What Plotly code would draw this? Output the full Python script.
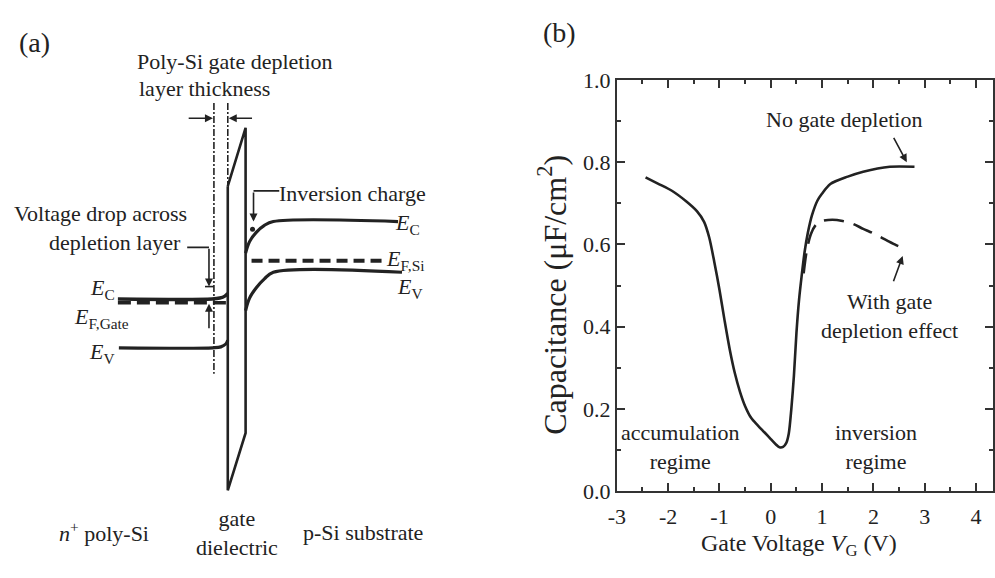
import plotly.graph_objects as go

# ---------------- Panel (b): C-V data ----------------
cv_vg = [-2.44, -2.2, -1.92, -1.65, -1.44, -1.3, -1.2, -1.1, -1.0, -0.9, -0.8, -0.7, -0.6,
         -0.5, -0.38, -0.25, -0.12, 0.0, 0.1, 0.17, 0.24, 0.3, 0.35, 0.4, 0.45, 0.5, 0.55,
         0.6, 0.66, 0.72, 0.8, 0.91, 1.0, 1.16, 1.5, 1.8, 2.32, 2.8]
cv_c = [0.763, 0.748, 0.73, 0.705, 0.681, 0.655, 0.617, 0.557, 0.49, 0.415, 0.345, 0.287, 0.242,
        0.207, 0.178, 0.16, 0.143, 0.127, 0.114, 0.107, 0.108, 0.117, 0.14, 0.2, 0.28, 0.385, 0.465,
        0.522, 0.583, 0.627, 0.67, 0.707, 0.724, 0.747, 0.765, 0.777, 0.789, 0.789]

wd_vg = [0.64, 0.70, 0.78, 0.88, 1.0, 1.2, 1.4, 1.6, 1.8, 2.0, 2.26, 2.45, 2.64]
wd_c = [0.53, 0.585, 0.625, 0.648, 0.657, 0.66, 0.657, 0.65, 0.638, 0.627, 0.61, 0.598, 0.588]

x_tick_vals = [-3, -2, -1, 0, 1, 2, 3, 4]
x_tick_text = ["-3", "-2", "-1", "0", "1", "2", "3", "4"]
y_tick_vals = [0.0, 0.2, 0.4, 0.6, 0.8, 1.0]
y_tick_text = ["0.0", "0.2", "0.4", "0.6", "0.8", "1.0"]

# ---------------- Panel (a): band diagram (diagram units, y grows downward) ----------------
gate_ec_x = [110, 205, 213, 218, 221]
gate_ec_y = [300, 300, 299, 297, 294]
gate_ef_x = [110, 221]
gate_ef_y = [304, 304]
gate_ev_x = [111, 206, 214, 219, 221]
gate_ev_y = [351, 351, 350, 347, 343]

diel_x = [221, 239, 239, 221, 221]
diel_y = [182, 121, 440, 500, 182]

sub_ec_x = [239, 243, 250, 258, 267, 393]
sub_ec_y = [252, 240, 230, 223, 219, 219]
sub_ef_x = [245, 380]
sub_ef_y = [260, 260]
sub_ev_x = [239, 243, 250, 258, 267, 397]
sub_ev_y = [312, 299, 288, 279, 272, 272]

depl_left_x = [207, 207]
depl_left_y = [95, 378]
depl_right_x = [221, 221]
depl_right_y = [95, 182]

inv_charge_x = [246]
inv_charge_y = [227]

INK = "#222222"
FONT = "Liberation Serif, Times New Roman, serif"

fig = go.Figure()

# panel (a) traces
def band(x, y, width=3.2, dash="solid", shape="spline"):
    fig.add_trace(go.Scatter(x=x, y=y, mode="lines", xaxis="x2", yaxis="y2",
                             line=dict(color=INK, width=width, dash=dash, shape=shape),
                             hoverinfo="skip", showlegend=False))

band(gate_ec_x, gate_ec_y, 3.5)
band(gate_ef_x, gate_ef_y, 3.5, "13px,6px", "linear")
band(gate_ev_x, gate_ev_y, 3.2)
band(diel_x, diel_y, 2.6, "solid", "linear")
band(sub_ec_x, sub_ec_y, 3.2)
band(sub_ef_x, sub_ef_y, 4, "11px,6px", "linear")
band(sub_ev_x, sub_ev_y, 3.2)
band(depl_left_x, depl_left_y, 1.6, "7px,2px,2px,2px", "linear")
band(depl_right_x, depl_right_y, 1.6, "7px,2px,2px,2px", "linear")
# leader lines
band([180, 202], [246, 246], 1.6, "solid", "linear")
band([198, 207], [287, 287], 1.6, "solid", "linear")
band([273, 247], [187, 187], 1.6, "solid", "linear")
fig.add_trace(go.Scatter(x=inv_charge_x, y=inv_charge_y, mode="markers", xaxis="x2", yaxis="y2",
                         marker=dict(color=INK, size=5), hoverinfo="skip", showlegend=False))

# panel (b) traces
fig.add_trace(go.Scatter(x=cv_vg, y=cv_c, mode="lines", xaxis="x", yaxis="y",
                         line=dict(color=INK, width=2.6, shape="spline", smoothing=0.8),
                         hoverinfo="skip", showlegend=False))
fig.add_trace(go.Scatter(x=wd_vg, y=wd_c, mode="lines", xaxis="x", yaxis="y",
                         line=dict(color=INK, width=2.6, dash="20px,10px", shape="spline", smoothing=0.8),
                         hoverinfo="skip", showlegend=False))

annotations = []

def txt(x, y, text, size=22, xanchor="center", ref="2", angle=0):
    if ref == "paper":
        d = dict(xref="paper", yref="paper")
    elif ref == "1":
        d = dict(xref="x", yref="y")
    else:
        d = dict(xref="x2", yref="y2")
    annotations.append(dict(x=x, y=y, text=text, showarrow=False, xanchor=xanchor,
                            yanchor="middle", textangle=angle,
                            font=dict(family=FONT, size=size, color=INK), **d))

def arrow(x0, y0, x1, y1, ref="2", width=1.6, head=2, size=1.0):
    xr, yr = ("x2", "y2") if ref == "2" else ("x", "y")
    annotations.append(dict(x=x1, y=y1, ax=x0, ay=y0, xref=xr, yref=yr, axref=xr, ayref=yr,
                            text="", showarrow=True, arrowhead=head, arrowsize=size,
                            arrowwidth=width, arrowcolor=INK, standoff=0, startstandoff=0))

# panel (a) texts
txt(26, 32, "(a)", 28)
txt(127, 52, "Poly-Si gate depletion", 22, "left")
txt(129, 80, "layer thickness", 22, "left")
txt(182, 211, "Voltage drop across", 22, "right")
txt(176, 241, "depletion layer", 22, "right")
txt(271, 190, "Inversion charge", 22, "left")
txt(94, 290, "<i>E</i><sub>C</sub>", 22)
txt(93, 320, "<i>E</i><sub>F,Gate</sub>", 22)
txt(94, 356, "<i>E</i><sub>V</sub>", 22)
txt(388, 222, "<i>E</i><sub>C</sub>", 22, "left")
txt(379, 259, "<i>E</i><sub>F,Si</sub>", 22, "left")
txt(390, 288, "<i>E</i><sub>V</sub>", 22, "left")
txt(96, 543, "<i>n</i><sup>+</sup> poly-Si", 22)
txt(230, 545, "gate<br>dielectric", 22)
txt(358, 544, "p-Si substrate", 22)
arrow(180, 111, 206, 111)
arrow(247, 111, 222, 111)
arrow(202, 246, 202, 287)
arrow(202, 332, 202, 305)
arrow(247, 187, 247, 219)

# panel (b) texts
W, H = 995, 578
txt(556 / W, 1 - 21 / H, "(b)", 28, ref="paper")
txt(549 / W, 1 - 295 / H, "Capacitance (μF/cm<sup>2</sup>)", 32, ref="paper", angle=-90)
txt(798 / W, 1 - 557 / H, "Gate Voltage <i>V</i><sub>G</sub> (V)", 24, ref="paper")
txt(1.435, 0.905, "No gate depletion", 22, ref="1")
txt(2.32, 0.427, "With gate<br>depletion effect", 22, ref="1")
txt(-1.75, 0.107, "accumulation<br>regime", 22, ref="1")
txt(2.05, 0.107, "inversion<br>regime", 22, ref="1")
arrow(2.38, 0.863, 2.65, 0.80, ref="1")
arrow(2.38, 0.507, 2.57, 0.572, ref="1")

axis_common = dict(showline=True, linewidth=2, linecolor="#333333", mirror="allticks",
                   ticks="inside", tickwidth=2, tickcolor="#333333", showgrid=False,
                   zeroline=False, tickfont=dict(family=FONT, size=22, color=INK))

fig.update_layout(
    width=W, height=H, margin=dict(l=0, r=0, t=0, b=0),
    paper_bgcolor="white", plot_bgcolor="rgba(0,0,0,0)",
    showlegend=False,
    xaxis=dict(domain=[614 / W, 994 / W], range=[-3, 4.33], anchor="y",
               tickmode="array", tickvals=x_tick_vals, ticktext=x_tick_text, ticklen=8,
               minor=dict(ticks="inside", ticklen=4, tickwidth=1.5, dtick=0.5, tick0=-3,
                          tickcolor="#333333", showgrid=False),
               ticklabelstandoff=4, **axis_common),
    yaxis=dict(domain=[(H - 501) / H, (H - 71) / H], range=[0, 1.0], anchor="x",
               tickmode="array", tickvals=y_tick_vals, ticktext=y_tick_text, ticklen=8,
               minor=dict(ticks="inside", ticklen=4, tickwidth=1.5, dtick=0.1, tick0=0,
                          tickcolor="#333333", showgrid=False),
               **axis_common),
    xaxis2=dict(domain=[0, 0.5], range=[0, 497.5], visible=False, anchor="y2"),
    yaxis2=dict(domain=[0, 1], range=[578, 0], visible=False, anchor="x2"),
    annotations=annotations,
)

fig.write_html("out.html")
